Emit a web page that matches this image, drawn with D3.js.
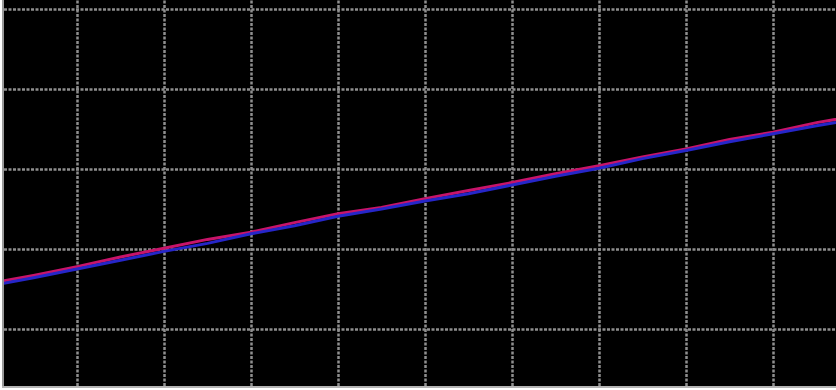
<!DOCTYPE html>
<html><head><meta charset="utf-8">
<script src="https://cdn.jsdelivr.net/npm/d3@7"></script>
<style>html,body{margin:0;padding:0;background:#fff;}svg{display:block;}</style>
</head><body>
<svg id="c" width="836" height="390"></svg>
<script>
const xValues = [0,0.5,1,1.5,2,2.5,3,3.5,4,4.5,5,5.5,6,6.5,7,7.5,8,8.5,9,9.5,10];
const redSeries = [1.57,1.67,1.78,1.90,2.01,2.12,2.21,2.33,2.44,2.52,2.63,2.73,2.83,2.94,3.04,3.15,3.25,3.37,3.46,3.58,3.67];
const blueSeries = [1.54,1.64,1.75,1.86,1.97,2.07,2.19,2.29,2.41,2.50,2.60,2.69,2.80,2.91,3.01,3.13,3.23,3.34,3.44,3.54,3.63];
const xTicks = [1,2,3,4,5,6,7,8,9];
const yTicks = [1,2,3,4,5];

const svg = d3.select("#c");
const plot = {x0:4, y0:0, x1:836, y1:386};
const x = d3.scaleLinear().domain([0,10]).range([-10,860]);
const y = d3.scaleLinear().domain([0,5]).range([409,9]);

svg.append("defs").append("clipPath").attr("id","clip")
  .append("rect").attr("x",plot.x0).attr("y",plot.y0)
  .attr("width",plot.x1-plot.x0).attr("height",plot.y1-plot.y0);

svg.append("rect").attr("x",plot.x0).attr("y",plot.y0)
  .attr("width",plot.x1-plot.x0).attr("height",plot.y1-plot.y0).attr("fill","#000");

const g = svg.append("g").attr("clip-path","url(#clip)");

const gx = g.append("g").attr("transform",`translate(0,${plot.y1})`)
  .call(d3.axisBottom(x).tickValues(xTicks).tickSize(-(plot.y1-plot.y0)).tickFormat(""));
const gy = g.append("g").attr("transform",`translate(${plot.x0},0)`)
  .call(d3.axisLeft(y).tickValues(yTicks).tickSize(-(plot.x1-plot.x0)).tickFormat(""));
[gx,gy].forEach(a=>{
  a.select(".domain").remove();
  a.selectAll(".tick line").attr("stroke","#8e8e8e").attr("stroke-width",2.5).attr("stroke-dasharray","3,1.5");
});

const line = d3.line().x((d,i)=>x(xValues[i])).y(d=>y(d));
g.append("path").datum(redSeries).attr("d",line).attr("fill","none")
  .attr("stroke","#c8146a").attr("stroke-width",3);
g.append("path").datum(blueSeries).attr("d",line).attr("fill","none")
  .attr("stroke","#2626c8").attr("stroke-width",3);

svg.append("line").attr("x1",3).attr("x2",3).attr("y1",0).attr("y2",387.5)
  .attr("stroke","#9a9a9a").attr("stroke-width",2);
svg.append("line").attr("x1",2).attr("x2",836).attr("y1",387).attr("y2",387)
  .attr("stroke","#b4b4b4").attr("stroke-width",2);
</script>
</body></html>
